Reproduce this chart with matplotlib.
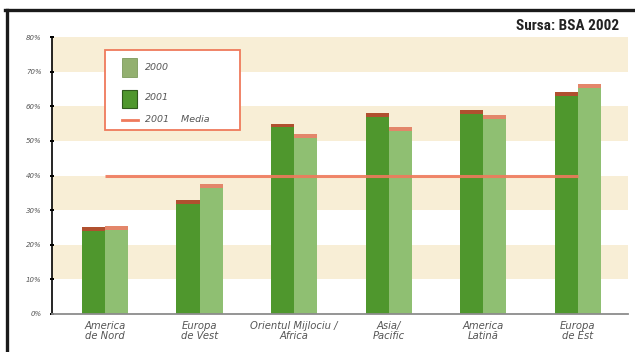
from matplotlib import pyplot as plt
from matplotlib.patches import Rectangle
from matplotlib.lines import Line2D
import numpy as np

regions = ["America\nde Nord", "Europa\nde Vest", "Orientul Mijlociu /\nAfrica",
           "Asia/\nPacific", "America\nLatină", "Europa\nde Est"]
dark_vals = [25.0, 33.0, 55.0, 58.0, 59.0, 64.0]
light_vals = [25.5, 37.5, 52.0, 54.0, 57.5, 66.5]
media = 40
y_ticks = [0, 10, 20, 30, 40, 50, 60, 70, 80]
y_tick_labels = [f"{t}%" for t in y_ticks]
bands = [(10, 20), (30, 40), (50, 60), (70, 80)]

W, H = 635, 352
dark_green = "#4f972d"
light_green = "#8fbf72"
dark_cap = "#b0502f"
light_cap = "#e3866a"
red_line = "#ef7a5c"
grey_text = "#555555"

def fx(px):
    return px / W

def fy(py):
    return 1 - py / H

fig = plt.figure(figsize=(W / 100, H / 100), dpi=100)
fig.patch.set_facecolor("white")

ax = fig.add_axes([fx(52), fy(314), fx(628) - fx(52), fy(37) - fy(314)])
ax.set_xlim(-0.56, 5.53)
ax.set_ylim(0, 80)

for lo, hi in bands:
    ax.axhspan(lo, hi, color="#f8eed6", lw=0, zorder=0)

x = np.arange(len(regions))
bw = 0.245
cap = 1.1
dark = np.array(dark_vals)
light = np.array(light_vals)
ax.bar(x - bw / 2, dark - cap, bw, color=dark_green, zorder=2)
ax.bar(x - bw / 2, cap, bw, bottom=dark - cap, color=dark_cap, zorder=2)
ax.bar(x + bw / 2, light - cap, bw, color=light_green, zorder=2)
ax.bar(x + bw / 2, cap, bw, bottom=light - cap, color=light_cap, zorder=2)

ax.hlines(media, x[0], x[-1], color=red_line, lw=2.2, alpha=0.9, zorder=3)

ax.set_yticks(y_ticks)
ax.set_yticklabels(y_tick_labels, fontsize=5, style="italic", color=grey_text)
ax.tick_params(axis="y", direction="inout", length=3, width=1.4, color="black", pad=6)
ax.set_xticks(x)
ax.set_xticklabels(regions, fontsize=7.2, style="italic", color=grey_text, linespacing=1.0)
ax.tick_params(axis="x", length=0, pad=5)

for s in ["top", "right"]:
    ax.spines[s].set_visible(False)
ax.spines["left"].set_color("black")
ax.spines["left"].set_linewidth(1.2)
ax.spines["bottom"].set_color("#8c8c8c")
ax.spines["bottom"].set_linewidth(1.3)
ax.set_facecolor("none")

# legend drawn by hand
fig.patches.append(Rectangle((fx(105), fy(130)), fx(240) - fx(105), fy(50) - fy(130),
                             transform=fig.transFigure, facecolor="white",
                             edgecolor=red_line, lw=1.3, zorder=5))
fig.patches.append(Rectangle((fx(122), fy(77)), fx(15), fy(58) - fy(77),
                             transform=fig.transFigure, facecolor="#93b070",
                             edgecolor="#7c9a5c", lw=0.6, zorder=6))
fig.patches.append(Rectangle((fx(122), fy(108)), fx(15), fy(90) - fy(108),
                             transform=fig.transFigure, facecolor=dark_green,
                             edgecolor="#2f5a1c", lw=0.8, zorder=6))
fig.lines.append(Line2D([fx(122), fx(138)], [fy(120), fy(120)], transform=fig.transFigure,
                        color=red_line, lw=2, zorder=6))
leg_style = dict(fontsize=6.8, style="italic", color=grey_text, va="center", zorder=7)
fig.text(fx(145), fy(67), "2000", **leg_style)
fig.text(fx(145), fy(98), "2001", **leg_style)
fig.text(fx(145), fy(120), "2001    Media", **leg_style)

fig.text(fx(619), fy(26), "Sursa: BSA 2002", ha="right", va="center", fontsize=11,
         fontweight="bold", color="#222222", family=["Roboto Condensed", "Roboto"])

# frame
fig.lines.append(Line2D([fx(5), fx(635)], [fy(10), fy(10)], transform=fig.transFigure,
                        color="#1a1a1a", lw=2.4))
fig.lines.append(Line2D([fx(7), fx(7)], [fy(10), fy(352)], transform=fig.transFigure,
                        color="#1a1a1a", lw=2.4))

fig.savefig("out.png", dpi=100)
